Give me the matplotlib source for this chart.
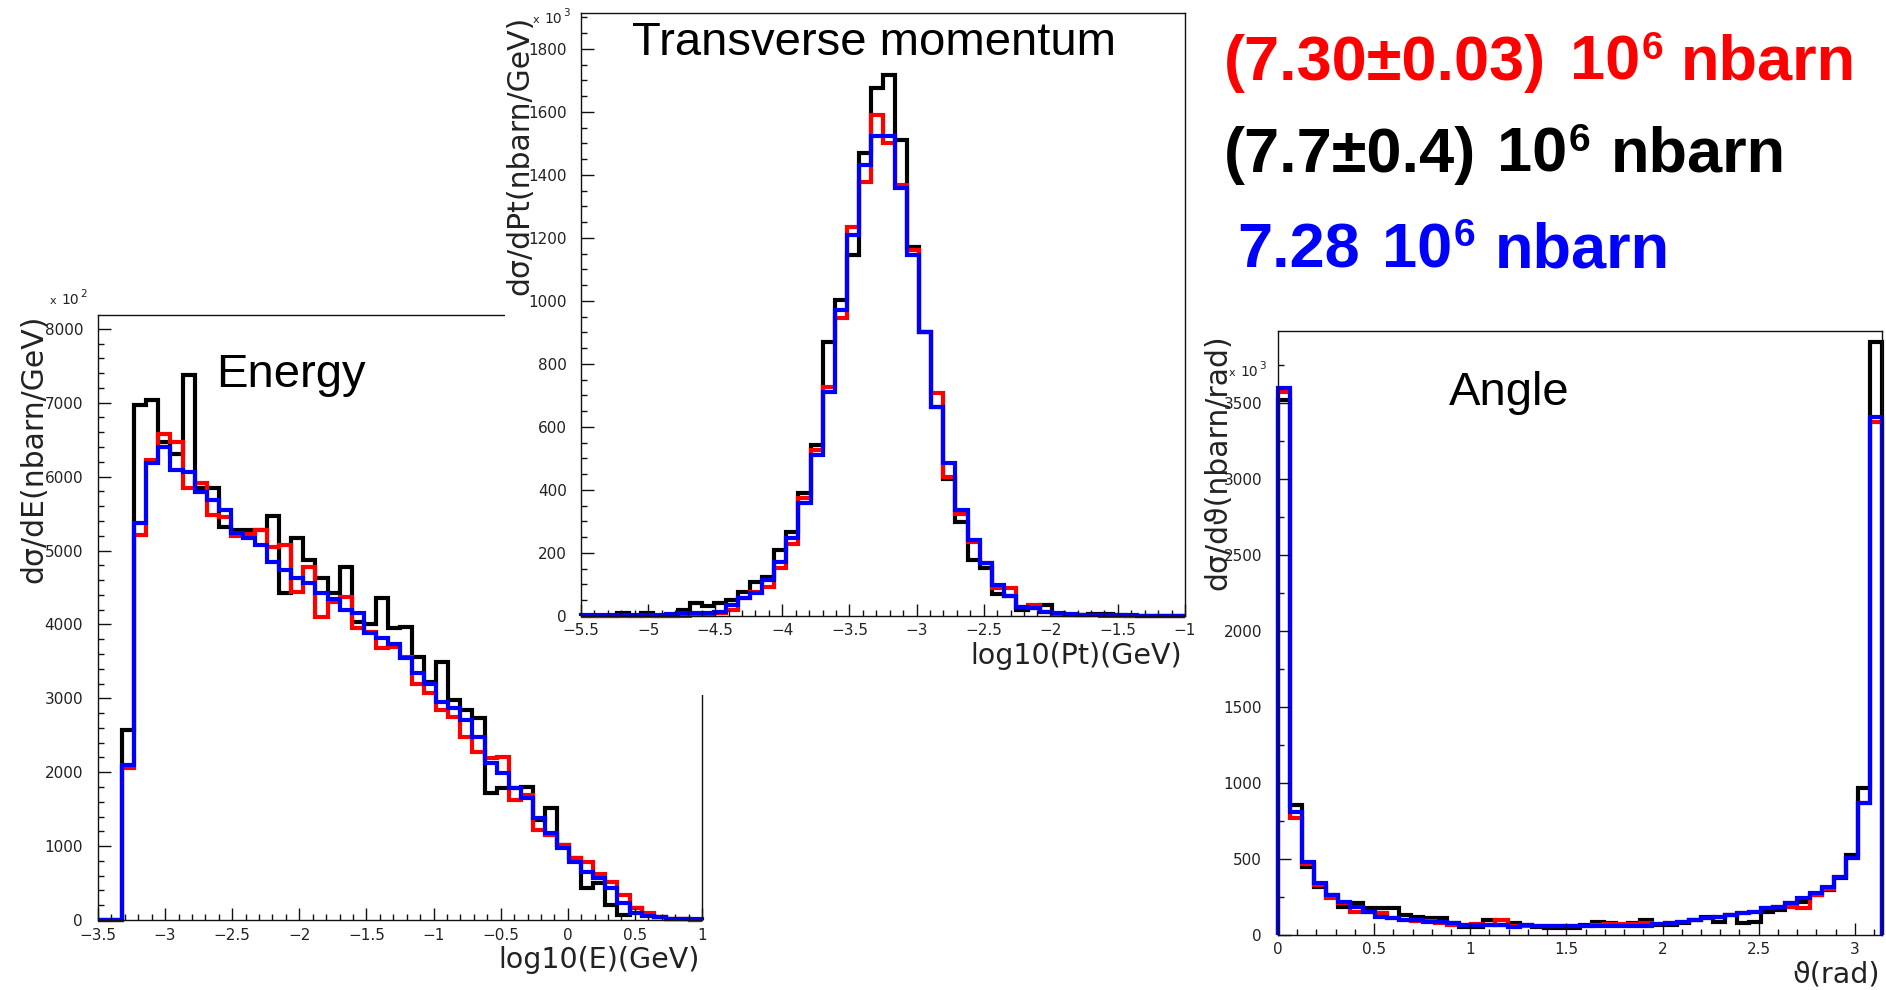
import numpy as np
import matplotlib
matplotlib.use('Agg')
import matplotlib.pyplot as plt
from matplotlib.patches import Rectangle
from matplotlib.ticker import FixedLocator, MultipleLocator

# ---------------- data ----------------
energy_range = (-3.5, 1.0)
energy_black = [0, 0, 2570, 6970, 7030, 6470, 6310, 7375, 5840, 5840,
                5320, 5280, 5280, 5280, 5470, 4425, 5170, 4870, 4630, 4425,
                4780, 4037, 4000, 4353, 3947, 3970, 3563, 3225, 3496, 2977,
                2842, 2729, 1714, 1782, 1782, 1800, 1353, 1511, 1015, 835,
                428, 496, 203, 68, 158, 68, 45, 20, 10, 5]
energy_red = [0, 0, 2057, 5210, 6225, 6577, 6463, 5840, 5909, 5480,
              5450, 5200, 5230, 5280, 5050, 5070, 4440, 4780, 4100, 4300,
              4370, 3950, 3902, 3676, 3700, 3563, 3200, 3067, 2842, 2752,
              2481, 2278, 2188, 2210, 1624, 1692, 1218, 1150, 1015, 835,
              780, 620, 520, 338, 158, 90, 45, 20, 10, 5]
energy_blue = [0, 0, 2100, 5372, 6180, 6405, 6090, 6067, 5797, 5683,
               5548, 5240, 5170, 5075, 4850, 4740, 4630, 4560, 4420, 4350,
               4200, 4150, 3880, 3810, 3730, 3540, 3340, 3200, 2955, 2865,
               2707, 2481, 2120, 1985, 1782, 1646, 1376, 1173, 970, 790,
               654, 564, 428, 226, 90, 55, 45, 20, 15, 10]

pt_range = (-5.5, -1.0)
pt_black = [0, 0, 0, 8, 0, 8, 0, 0, 19, 40,
            32, 40, 50, 77, 109, 125, 209, 268, 389, 543,
            871, 1003, 1146, 1469, 1675, 1717, 1511, 1172, 902, 664,
            434, 299, 178, 153, 69, 62, 19, 24, 35, 2,
            2, 2, 5, 5, 2, 0, 0, 0, 0, 0]
pt_red = [0, 0, 0, 0, 0, 0, 0, 0, 0, 2,
          3, 10, 19, 56, 77, 93, 151, 230, 373, 527,
          728, 946, 1236, 1379, 1590, 1500, 1368, 1162, 902, 707,
          442, 324, 235, 169, 90, 90, 30, 35, 14, 5,
          3, 2, 2, 1, 1, 0, 0, 0, 0, 0]
pt_blue = [3, 3, 3, 3, 3, 4, 4, 5, 8, 8,
           10, 14, 35, 56, 72, 114, 172, 246, 358, 511,
           712, 971, 1210, 1432, 1522, 1522, 1358, 1146, 902, 664,
           485, 336, 241, 167, 98, 62, 30, 24, 14, 8,
           5, 4, 3, 3, 2, 2, 1, 1, 1, 1]

angle_range = (0.0, np.pi)
angle_black = [3520, 855, 450, 318, 263, 186, 208, 175, 175, 175,
               131, 121, 110, 110, 77, 55, 55, 98, 66, 77,
               66, 55, 44, 44, 44, 66, 88, 77, 66, 77,
               99, 66, 66, 77, 99, 121, 88, 132, 77, 88,
               153, 164, 208, 219, 263, 296, 373, 526, 965, 3903]
angle_red = [3570, 768, 470, 330, 241, 210, 153, 150, 143, 115,
             100, 95, 90, 77, 66, 66, 70, 65, 98, 60,
             60, 60, 60, 60, 62, 62, 65, 70, 70, 75,
             80, 70, 77, 88, 99, 110, 121, 132, 143, 153,
             175, 186, 186, 175, 263, 300, 380, 504, 866, 3373]
angle_blue = [3597, 811, 482, 340, 263, 219, 186, 153, 121, 110,
              98, 98, 88, 88, 77, 66, 66, 66, 66, 55,
              66, 60, 60, 60, 60, 60, 62, 62, 62, 62,
              62, 70, 77, 88, 99, 110, 121, 132, 143, 153,
              175, 186, 208, 241, 274, 318, 384, 504, 866, 3410]

energy_xticks = [-3.5, -3, -2.5, -2, -1.5, -1, -0.5, 0, 0.5, 1]
energy_xticklabels = ['\u22123.5', '\u22123', '\u22122.5', '\u22122', '\u22121.5',
                      '\u22121', '\u22120.5', '0', '0.5', '1']
energy_yticks = [0, 1000, 2000, 3000, 4000, 5000, 6000, 7000, 8000]
pt_xticks = [-5.5, -5, -4.5, -4, -3.5, -3, -2.5, -2, -1.5, -1]
pt_xticklabels = ['\u22125.5', '\u22125', '\u22124.5', '\u22124', '\u22123.5',
                  '\u22123', '\u22122.5', '\u22122', '\u22121.5', '\u22121']
pt_yticks = [0, 200, 400, 600, 800, 1000, 1200, 1400, 1600, 1800]
angle_xticks = [0, 0.5, 1, 1.5, 2, 2.5, 3]
angle_xticklabels = ['0', '0.5', '1', '1.5', '2', '2.5', '3']
angle_yticks = [0, 500, 1000, 1500, 2000, 2500, 3000, 3500]

series_colors = ['#000000', '#ff0000', '#0000ff']

# ---------------- figure ----------------
W, H = 1886, 990
fig = plt.figure(figsize=(W / 100, H / 100), dpi=100)
fig.patch.set_facecolor('white')
renderer = fig.canvas.get_renderer()


def frac_rect(l, t, r, b):
    return [l / W, 1 - b / H, (r - l) / W, (b - t) / H]


def setup(ax, xlim, ylim, xt, xtl, yt, xminor, yminor, ypad, xpad):
    ax.set_xlim(*xlim)
    ax.set_ylim(*ylim)
    ax.xaxis.set_major_locator(FixedLocator(xt))
    ax.set_xticklabels(xtl)
    ax.yaxis.set_major_locator(FixedLocator(yt))
    ax.set_yticklabels([str(v) for v in yt])
    ax.xaxis.set_minor_locator(MultipleLocator(xminor))
    ax.yaxis.set_minor_locator(MultipleLocator(yminor))
    ax.tick_params(which='both', direction='in', top=False, right=False,
                   width=1.0, color='#111111', labelsize=11, labelcolor='#222222')
    ax.tick_params(which='major', length=9)
    ax.tick_params(which='minor', length=4.5)
    ax.tick_params(axis='y', which='both', pad=ypad)
    ax.tick_params(axis='x', which='both', pad=xpad)
    for s in ax.spines.values():
        s.set_linewidth(1.0)
        s.set_color('#111111')
    ax.set_facecolor('white')


def hist(ax, vals, rng, color):
    edges = np.linspace(rng[0], rng[1], len(vals) + 1)
    ax.stairs(vals, edges, baseline=0, fill=False, color=color, lw=3.0,
              clip_on=False)


# Energy
ax_e = fig.add_axes(frac_rect(98, 315, 702, 920))
ax_e.set_zorder(0)
setup(ax_e, energy_range, (0, 8187), energy_xticks, energy_xticklabels,
      energy_yticks, 0.1, 200, 10.8, 5.5)
for v, c in zip([energy_black, energy_red, energy_blue], series_colors):
    hist(ax_e, v, energy_range, c)

# white panel of the Pt picture covering the energy frame
fig.add_artist(Rectangle((505 / W, 1 - 695 / H), (1192 - 505) / W, 695 / H,
                         transform=fig.transFigure, facecolor='white',
                         edgecolor='none', zorder=1))

# Pt
ax_p = fig.add_axes(frac_rect(581, 13, 1185, 616))
ax_p.set_zorder(2)
setup(ax_p, pt_range, (0, 1914), pt_xticks, pt_xticklabels,
      pt_yticks, 0.1, 50, 10.0, 5.0)
for v, c in zip([pt_black, pt_red, pt_blue], series_colors):
    hist(ax_p, v, pt_range, c)

# Angle
ax_a = fig.add_axes(frac_rect(1278, 331, 1882, 935))
ax_a.set_zorder(0)
setup(ax_a, angle_range, (0, 3974), angle_xticks, angle_xticklabels,
      angle_yticks, 0.1, 250, 11.5, 5.0)
for v, c in zip([angle_black, angle_red, angle_blue], series_colors):
    hist(ax_a, v, angle_range, c)


# ---------------- texts ----------------
def ptext(x, y, s, **kw):
    kw.setdefault('zorder', 5)
    return fig.text(x / W, 1 - y / H, s, **kw)


def chain(x, y, parts, **kw):
    cur = x
    for s, size, dy, gap in parts:
        cur += gap
        t = ptext(cur, y + dy, s, fontsize=size, ha='left', va='baseline', **kw)
        bb = t.get_window_extent(renderer)
        cur = bb.x1
    return cur


ylab = dict(color='#222222', fontsize=21.5)
xlab = dict(color='#222222', fontsize=20.5)
ptext(34, 449, 'd\u03c3/dE(nbarn/GeV)', rotation=90, ha='center', va='center', **ylab)
ptext(520, 155, 'd\u03c3/dPt(nbarn/GeV)', rotation=90, ha='center', va='center', **ylab)
ptext(1218, 462, 'd\u03c3/d\u03d1(nbarn/rad)', rotation=90, ha='center', va='center', **ylab)
ptext(700, 968, 'log10(E)(GeV)', ha='right', va='baseline', **xlab)
ptext(1182, 664, 'log10(Pt)(GeV)', ha='right', va='baseline', **xlab)
ptext(1880, 983, '\u03d1(rad)', ha='right', va='baseline', **xlab)

mult = dict(color='#222222')
chain(50, 304, [('x', 8, 0, 0), ('10', 10, 0, 5), ('2', 7.5, -7, 1)], **mult)
chain(533, 23, [('x', 8, 0, 0), ('10', 10, 0, 5), ('3', 7.5, -7, 1)], **mult)
chain(1229, 376, [('x', 8, 0, 0), ('10', 10, 0, 5), ('3', 7.5, -7, 1)], **mult)

ttl = dict(fontfamily='Liberation Sans', fontsize=34, color='black', ha='left', va='baseline')
ptext(216, 387, 'Energy', **ttl)
ptext(632, 55, 'Transverse momentum', **ttl)
ptext(1449, 405, 'Angle', **ttl)

# big cross-section numbers (bold Arial-like)
BIG = 'Liberation Sans'
probe = fig.text(0, 0, '(7.30\u00b10.03)', fontsize=40, fontfamily=BIG, fontweight='bold')
w0 = probe.get_window_extent(renderer).width
probe.remove()
S = 40 * 322 / w0
big = dict(fontfamily=BIG, fontweight='bold')
lines = [
    ('(7.30\u00b10.03)', '#ff0000', 1224, 1570, 1681, 80),
    ('(7.7\u00b10.4)', '#000000', 1224, 1497, 1611, 172),
    ('7.28', '#0000ff', 1237, 1382, 1495, 267),
]
for first, col, x0, x10, xn, yb in lines:
    ptext(x0, yb, first, fontsize=S, color=col, ha='left', va='baseline', **big)
    chain(x10, yb, [('10', S, 0, 0), ('6', 0.62 * S, -21, 1)], color=col, **big)
    ptext(xn, yb, 'nbarn', fontsize=S, color=col, ha='left', va='baseline', **big)

fig.savefig('out.png', dpi=100, facecolor='white')
